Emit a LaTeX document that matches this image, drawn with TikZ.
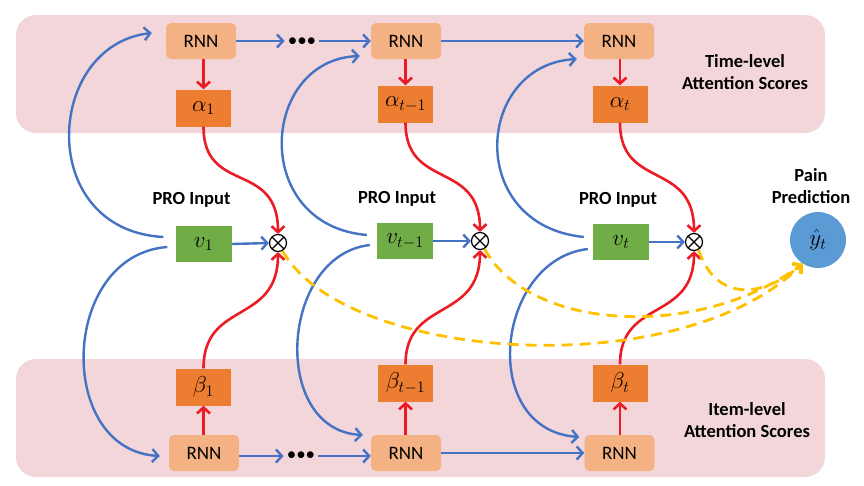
\documentclass[tikz,border=0pt]{standalone}
\usepackage{fix-cm}
\usepackage{fontspec}
\setmainfont{Carlito}
\usetikzlibrary{arrows.meta,calc}
\definecolor{panelc}{RGB}{242,214,218}
\definecolor{rnnc}{RGB}{244,177,131}
\definecolor{attc}{RGB}{237,125,49}
\definecolor{inpc}{RGB}{112,173,71}
\definecolor{outc}{RGB}{91,155,213}
\definecolor{bluec}{RGB}{68,114,196}
\definecolor{redc}{RGB}{236,28,36}
\definecolor{yelc}{RGB}{255,192,0}
\begin{document}
\begin{tikzpicture}[x=1pt,y=-1pt,
  rnn/.style={rectangle, rounded corners=5pt, fill=rnnc, minimum width=70pt, minimum height=36pt, inner sep=0pt, font=\fontsize{19}{20}\selectfont},
  att/.style={rectangle, fill=attc, minimum width=55pt, minimum height=37pt, inner sep=0pt, font=\fontsize{23}{26}\selectfont},
  inp/.style={rectangle, fill=inpc, minimum width=56pt, minimum height=36pt, inner sep=0pt, font=\fontsize{23}{26}\selectfont},
  lbl/.style={font=\bfseries\fontsize{18.5}{22}\selectfont, align=center, inner sep=0pt},
  otimesn/.style={circle, draw, line width=1.2pt, minimum size=17pt, inner sep=0pt,
    path picture={\draw[line width=1.2pt] (path picture bounding box.north west) -- (path picture bounding box.south east)
      (path picture bounding box.north east) -- (path picture bounding box.south west);}},
  barr/.style={draw=bluec, line width=2.4pt, -{Straight Barb[length=6pt,width=13pt]}},
  rarr/.style={draw=redc, line width=2.6pt, -{Straight Barb[length=6pt,width=13pt]}},
  yarr/.style={draw=yelc, line width=2.8pt, dash pattern=on 11pt off 7pt, -{Straight Barb[length=6pt,width=13pt]}},
  dotsn/.style={font=\fontsize{19}{19}\selectfont, inner sep=3pt}
]
\useasboundingbox (0,0) rectangle (864,485);
\fill[panelc, rounded corners=20pt] (16,15) rectangle (825,133);
\fill[panelc, rounded corners=20pt] (16,359) rectangle (825,477);

% top RNN row
\node[rnn] (rnnT1) at (201,41) {RNN};
\node[rnn] (rnnT2) at (406,41) {RNN};
\node[rnn] (rnnT3) at (619,41) {RNN};
\node[dotsn] (dotsT) at (302,42) {\textbullet\textbullet\textbullet};
% alpha
\node[att] (aT1) at (203.5,108) {$\alpha_1$};
\node[att] (aT2) at (405.5,104) {$\alpha_{t-1}$};
\node[att] (aT3) at (620,104) {$\alpha_t$};
% inputs
\node[lbl] (pro1) at (191.5,200) {PRO Input};
\node[lbl] (pro2) at (397,199) {PRO Input};
\node[lbl] (pro3) at (618,200) {PRO Input};
\node[inp] (vin1) at (203.5,244) {$v_1$};
\node[inp] (vin2) at (405,241) {$v_{t-1}$};
\node[inp] (vin3) at (621,242) {$v_t$};
\node[otimesn] (ox1) at (278,243) {};
\node[otimesn] (ox2) at (480,241) {};
\node[otimesn] (ox3) at (694,242) {};
% beta
\node[att] (bB1) at (203.5,387) {$\beta_1$};
\node[att] (bB2) at (405.5,383) {$\beta_{t-1}$};
\node[att] (bB3) at (620,383) {$\beta_t$};
% bottom RNN row
\node[rnn] (rnnB1) at (204,453) {RNN};
\node[rnn] (rnnB2) at (406,453) {RNN};
\node[rnn] (rnnB3) at (619.5,453) {RNN};
\node[dotsn] (dotsB) at (301,456) {\textbullet\textbullet\textbullet};
% output
\node[circle, fill=outc, minimum size=56pt, inner sep=0pt, font=\fontsize{23}{26}\selectfont] (yhat) at (818,240) {$\hat{y}_t$};
\node[lbl] (pain) at (811,186) {Pain\\Prediction};
\node[lbl] (timelbl) at (745,72) {Time-level\\Attention Scores};
\node[lbl] (itemlbl) at (747,420) {Item-level\\Attention Scores};

% horizontal blue arrows
\draw[barr] (rnnT1.east) -- (dotsT.west |- rnnT1);
\draw[barr] (dotsT.east |- rnnT2) -- (rnnT2.west);
\draw[barr] (rnnT2.east) -- (rnnT3.west);
\draw[barr] (rnnB1.east |- dotsB) -- (dotsB.west);
\draw[barr] (dotsB.east) -- (rnnB2.west |- dotsB);
\draw[barr] (rnnB2.east) -- (rnnB3.west);
\draw[barr] (vin1.east) -- (ox1.west);
\draw[barr] (vin2.east) -- (ox2.west);
\draw[barr] (vin3.east) -- (ox3.west);

% blue curves up
\draw[barr] ($(vin1.west)+(-12,-7)$) .. controls (35,230) and (45,45) .. ($(rnnT1.west)+(-14,-8)$);
\draw[barr] ($(vin2.west)+(-10,-6)$) .. controls (250,225) and (260,60) .. ($(rnnT2.west)+(-11,15)$);
\draw[barr] ($(vin3.west)+(-9,-5)$) .. controls (465,225) and (475,65) .. ($(rnnT3.west)+(-7,18)$);
% blue curves down
\draw[barr] ($(vin1.west)+(-8,3)$) .. controls (60,255) and (55,450) .. ($(rnnB1.west)+(-9,3)$);
\draw[barr] ($(vin2.west)+(-7,4)$) .. controls (280,255) and (270,430) .. ($(rnnB2.west)+(-8,-18)$);
\draw[barr] ($(vin3.west)+(-5,7)$) .. controls (495,260) and (478,430) .. ($(rnnB3.west)+(-5,-16)$);

% red arrows
\draw[rarr] (rnnT1.south -| aT1) -- (aT1.north);
\draw[rarr] (rnnT2.south -| aT2) -- (aT2.north);
\draw[rarr] (rnnT3.south -| aT3) -- (aT3.north);
\draw[rarr] (rnnB1.north -| bB1) -- (bB1.south);
\draw[rarr] (rnnB2.north -| bB2) -- (bB2.south);
\draw[rarr] (rnnB3.north -| bB3) -- (bB3.south);
\draw[rarr] (aT1.south) .. controls (203.5,195) and (278,160) .. (ox1.north);
\draw[rarr] (aT2.south) .. controls (405.5,190) and (480,160) .. (ox2.north);
\draw[rarr] (aT3.south) .. controls (620,190) and (694,160) .. (ox3.north);
\draw[rarr] (bB1.north) .. controls (203.5,300) and (278,325) .. (ox1.south);
\draw[rarr] (bB2.north) .. controls (405.5,298) and (480,322) .. (ox2.south);
\draw[rarr] (bB3.north) .. controls (620,298) and (694,322) .. (ox3.south);

% yellow dashed
\draw[yarr] (ox1.-60) .. controls (345,362) and (680,385) .. (yhat.237);
\draw[yarr] (ox2.-60) .. controls (530,332) and (700,340) .. (yhat.237);
\draw[yarr] (ox3.-60) .. controls (715,300) and (760,300) .. (yhat.237);
\end{tikzpicture}
\end{document}
